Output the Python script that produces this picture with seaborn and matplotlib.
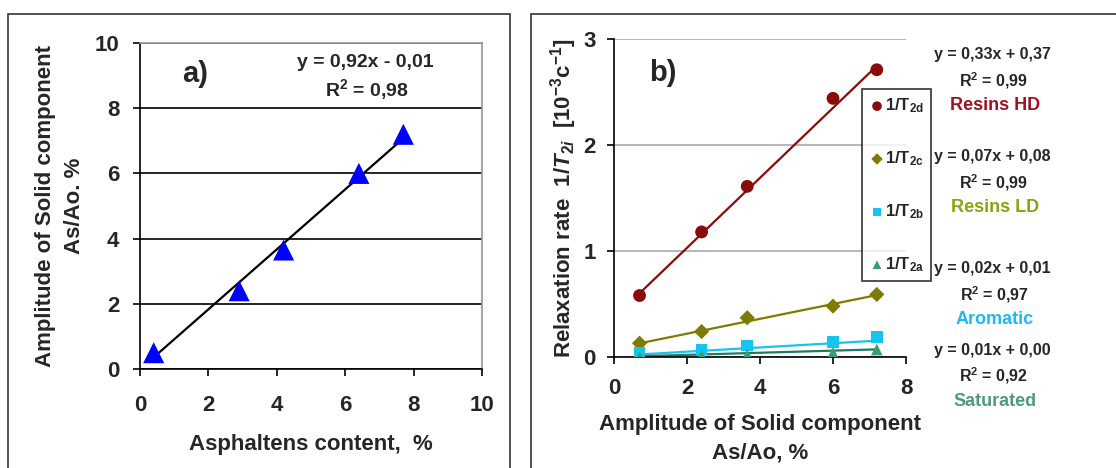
import matplotlib.pyplot as plt
import seaborn as sns
import numpy as np
from matplotlib.patches import Rectangle

# panel a
asph = [0.4, 2.9, 4.2, 6.4, 7.7]
amp = [0.5, 2.4, 3.65, 6.0, 7.2]
fit_a = (0.92, -0.01)

# panel b
amp_b = [0.7, 2.4, 3.65, 6.0, 7.2]
rate_d = [0.58, 1.18, 1.61, 2.44, 2.71]
rate_c = [0.13, 0.24, 0.37, 0.48, 0.59]
rate_b = [0.04, 0.07, 0.11, 0.14, 0.19]
rate_a = [0.00, 0.01, 0.02, 0.04, 0.07]
fits_b = [(0.33, 0.37), (0.07, 0.08), (0.02, 0.01), (0.01, 0.00)]
names_b = ['1/T$_{\\mathbf{2d}}$', '1/T$_{\\mathbf{2c}}$', '1/T$_{\\mathbf{2b}}$', '1/T$_{\\mathbf{2a}}$']
eq_b = ['y = 0,33x + 0,37', 'y = 0,07x + 0,08', 'y = 0,02x + 0,01', 'y = 0,01x + 0,00']
r2_b = ['0,99', '0,99', '0,97', '0,92']
groups_b = ['Resins HD', 'Resins LD', 'Aromatic', 'Saturated']

sns.set_theme(style='white')
plt.rcParams['font.family'] = ['Liberation Sans', 'DejaVu Sans']
plt.rcParams['font.weight'] = 'bold'
plt.rcParams['axes.labelweight'] = 'bold'
plt.rcParams['mathtext.fontset'] = 'custom'
plt.rcParams['mathtext.rm'] = 'Liberation Sans:bold'
plt.rcParams['mathtext.bf'] = 'Liberation Sans:bold'
plt.rcParams['mathtext.it'] = 'Liberation Sans:bold:italic'

fig = plt.figure(figsize=(11.16, 4.68), dpi=100)
W, H = 1116, 468

def px(x0, y0, x1, y1):
    return [x0 / W, 1 - y1 / H, (x1 - x0) / W, (y1 - y0) / H]

# panel frames
fig.patches.append(Rectangle((8 / W, -0.1), 502 / W, 1 - 14 / H + 0.1, transform=fig.transFigure,
                             fill=False, ec='#333333', lw=1.2))
fig.patches.append(Rectangle((531 / W, -0.1), 0.6, 1 - 14 / H + 0.1, transform=fig.transFigure,
                             fill=False, ec='#333333', lw=1.2))

def style_axes(ax, gridcolor):
    for s in ['left', 'bottom']:
        ax.spines[s].set_color('black')
        ax.spines[s].set_linewidth(1.2)
    ax.tick_params(axis='both', direction='out', length=5, width=1.2, color='black',
                   labelsize=16, left=True, bottom=True)
    ax.yaxis.grid(True, color=gridcolor, lw=1.2)
    ax.set_axisbelow(True)

# ---- a)
ax1 = fig.add_axes(px(140, 43, 482, 369))
style_axes(ax1, 'black')
ax1.tick_params(axis='x', pad=14)
ax1.tick_params(axis='y', pad=10)
ax1.spines['top'].set_color('#999999')
ax1.spines['right'].set_color('#999999')
xs = np.array([asph[0], asph[-1]])
sns.lineplot(x=xs, y=fit_a[0] * xs + fit_a[1], ax=ax1, color='black', lw=1.6)
sns.scatterplot(x=asph, y=amp, ax=ax1, marker='^', color='#0000FF', s=230, edgecolor='none', zorder=3)
ax1.set_xlim(0, 10)
ax1.set_ylim(0, 10)
ax1.set_xticks(range(0, 11, 2))
ax1.set_yticks(range(0, 11, 2))
ax1.set_xlabel('Asphaltens content,  %', fontsize=16, labelpad=13)
ax1.set_ylabel('Amplitude of Solid component\nAs/Ao. %', fontsize=16, labelpad=7, linespacing=1.5)
ax1.text(0.123, 0.905, 'a)', transform=ax1.transAxes, fontsize=21, ha='left', va='center')
ax1.text(0.658, 0.94, 'y = 0,92x - 0,01', transform=ax1.transAxes, fontsize=14, ha='center', va='center')
ax1.text(0.664, 0.857, 'R$^2$ = 0,98', transform=ax1.transAxes, fontsize=14, ha='center', va='center')

# ---- b)
ax2 = fig.add_axes(px(614, 39, 906, 357))
style_axes(ax2, '#aaaaaa')
ax2.tick_params(axis='x', pad=10)
ax2.tick_params(axis='y', pad=8)
ax2.spines['top'].set_visible(False)
ax2.spines['right'].set_visible(False)
series = [rate_d, rate_c, rate_b, rate_a]
mcol = ['#8B0A0A', '#7F7A00', '#19C3F0', '#3A9E6E']
lcol = ['#8B0A0A', '#7F7A00', '#19C3F0', '#1F7A66']
markers = ['o', 'D', 's', '^']
sizes = [85, 60, 70, 70]
xb = np.array([amp_b[0], amp_b[-1]])
handles = []
for vals, (k, b0), mc, lc, mk, sz, nm in zip(series, fits_b, mcol, lcol, markers, sizes, names_b):
    sns.lineplot(x=xb, y=k * xb + b0, ax=ax2, color=lc, lw=1.6)
    sc = ax2.scatter(amp_b, vals, marker=mk, color=mc, s=sz, edgecolor='none', zorder=3, label=nm)
    handles.append(sc)
ax2.set_xlim(0, 8)
ax2.set_ylim(0, 3)
ax2.set_xticks(range(0, 9, 2))
ax2.set_yticks(range(0, 4))
ax2.set_xlabel('Amplitude of Solid component\nAs/Ao, %', fontsize=16, labelpad=11, linespacing=1.45)
ax2.set_ylabel('Relaxation rate  1/$\\mathit{T}$$_{2i}$  [10$^{-3}$c$^{-1}$]', fontsize=16, labelpad=3)
ax2.text(0.168, 0.893, 'b)', transform=ax2.transAxes, fontsize=21, ha='center', va='center')
leg = ax2.legend(handles=handles, loc='upper left', bbox_to_anchor=(248 / 292, 1 - 50 / 318),
                 frameon=True, fontsize=12, handletextpad=0.0, labelspacing=2.05,
                 borderpad=0.45, handlelength=0.9, markerscale=0.75, borderaxespad=0)
leg.get_frame().set_edgecolor('black')
leg.get_frame().set_linewidth(1.2)
leg.get_frame().set_boxstyle('square', pad=0)
leg.set_zorder(5)

tcol = ['#A01020', '#8FA010', '#22B8F0', '#4E9A7C']
ytops = [55, 157, 269, 350]
for eq, r2, gname, tc, yt in zip(eq_b, r2_b, groups_b, tcol, ytops):
    fig.text(992 / W, 1 - yt / H, eq, fontsize=11.5, ha='center', va='center')
    fig.text(994 / W, 1 - (yt + 26) / H, 'R$^2$ = ' + r2, fontsize=11.5, ha='center', va='center')
    fig.text(995 / W, 1 - (yt + 51) / H, gname, fontsize=13, ha='center', va='center', color=tc)

fig.savefig('out.png', dpi=100)
